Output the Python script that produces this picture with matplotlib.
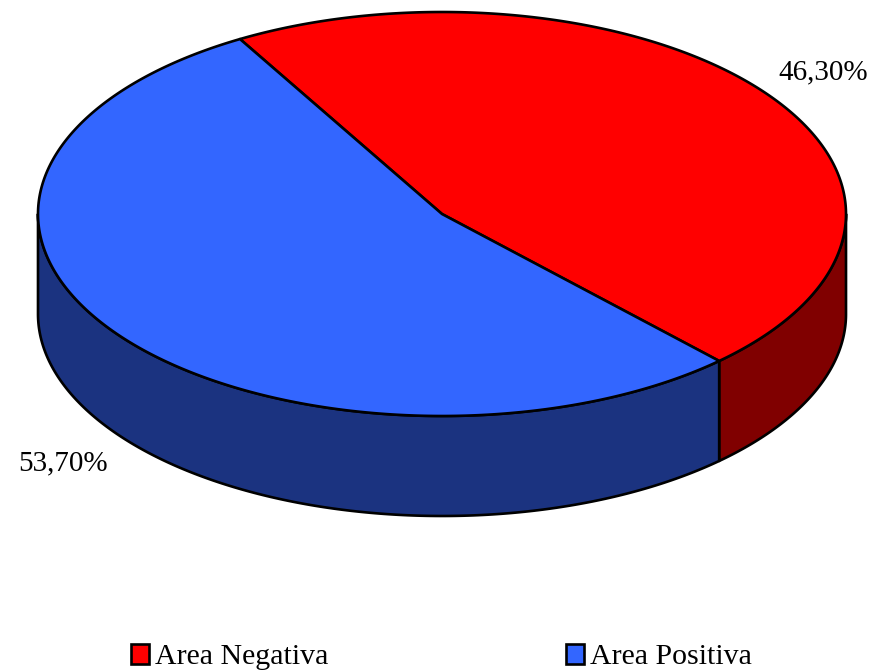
import numpy as np
import matplotlib.pyplot as plt
from matplotlib.patches import Polygon, Patch

# dados
categorias = ['Area Negativa', 'Area Positiva']
valores = [46.30, 53.70]
rotulos = ['46,30%', '53,70%']
cores_topo = ['#FF0000', '#3366FF']
cores_lado = ['#800000', '#1B3380']

# geometria da pizza 3D (em pixels)
cx, cy = 442, 214
rx, ry = 404, 202
prof = 100
inicio = 120.0  # angulo da primeira fatia, sentido horario

fig = plt.figure(figsize=(8.75, 6.72), dpi=100)
ax = fig.add_axes([0, 0, 1, 1])
ax.set_xlim(0, 875)
ax.set_ylim(672, 0)
ax.axis('off')


def ponto(t, dz=0):
    r = np.radians(t)
    return cx + rx * np.cos(r), cy - ry * np.sin(r) + dz


total = sum(valores)
fatias = []
a = inicio
for v in valores:
    a2 = a - v / total * 360
    fatias.append((a2, a))
    a = a2

# laterais (parte da frente, angulos entre 180 e 360)
for (t1, t2), cor in zip(fatias, cores_lado):
    for k in range(-1, 2):
        lo = max(t1, 180 + 360 * k)
        hi = min(t2, 360 + 360 * k)
        if hi <= lo:
            continue
        ts = np.linspace(lo, hi, 200)
        cima = [ponto(t) for t in ts]
        baixo = [ponto(t, prof) for t in ts[::-1]]
        ax.add_patch(Polygon(cima + baixo, closed=True, facecolor=cor,
                             edgecolor='black', lw=1.9, joinstyle='round'))

# topo
for (t1, t2), cor in zip(fatias, cores_topo):
    ts = np.linspace(t1, t2, 300)
    pts = [(cx, cy)] + [ponto(t) for t in ts]
    ax.add_patch(Polygon(pts, closed=True, facecolor=cor,
                         edgecolor='black', lw=1.9, joinstyle='round'))

fonte = 'Liberation Serif'
ax.text(823, 72, rotulos[0], fontsize=21, family=fonte,
        ha='center', va='center')
ax.text(63, 463, rotulos[1], fontsize=21, family=fonte,
        ha='center', va='center')

alcas = [Patch(facecolor=c, edgecolor='black', lw=1.9) for c in cores_topo]
ax.legend(alcas, categorias, loc='center left', bbox_to_anchor=(131 / 875, 1 - 657 / 672),
          bbox_transform=fig.transFigure, ncol=2, frameon=False,
          prop={'family': fonte, 'size': 21.5}, handlelength=0.6,
          handleheight=0.68, handletextpad=0.2, columnspacing=7.95,
          borderpad=0, borderaxespad=0)

fig.savefig('out.png', dpi=100)
